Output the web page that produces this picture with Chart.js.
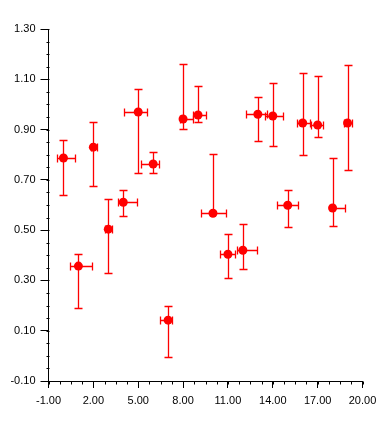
<!DOCTYPE html>
<html>
<head>
<meta charset="utf-8">
<script src="https://cdn.jsdelivr.net/npm/chart.js@4/dist/chart.umd.min.js"></script>
<style>
html,body{margin:0;padding:0;background:#fff;}
#wrap{width:390px;height:429px;position:relative;}
</style>
</head>
<body>
<div id="wrap"><canvas id="c" width="390" height="429"></canvas></div>
<script>
// ---- data ----
const xs = [0,1,2,3,4,5,6,7,8,9,10,11,12,13,14,15,16,17,18,19];
const ys = [0.787,0.357,0.830,0.504,0.611,0.970,0.763,0.142,0.942,0.958,0.567,0.404,0.420,0.961,0.954,0.599,0.926,0.918,0.588,0.926];
const yErrPlus  = [0.071,0.047,0.102,0.119,0.048,0.091,0.047,0.055,0.219,0.115,0.235,0.080,0.104,0.068,0.131,0.060,0.199,0.195,0.199,0.231];
const yErrMinus = [0.148,0.168,0.155,0.175,0.054,0.243,0.036,0.148,0.040,0.028,0.000,0.095,0.075,0.107,0.120,0.086,0.128,0.046,0.071,0.187];
const xErrMinus = [0.40,0.595,0.19,0.19,0.38,0.92,0.80,0.51,0.19,0.35,0.83,0.53,0.40,0.78,0.50,0.75,0.37,0.45,0.00,0.27];
const xErrPlus  = [0.74,0.94,0.24,0.28,0.89,0.62,0.36,0.23,0.64,0.50,0.88,0.49,0.94,0.60,0.65,0.66,0.50,0.33,0.85,0.29];
const xTicks = [-1,2,5,8,11,14,17,20];
const yTicks = [-0.1,0.1,0.3,0.5,0.7,0.9,1.1,1.3];
const xMinorStep = 0.75;
const yMinorStep = 0.05;

const RED = '#ff0000';
const FONT = {family: '"Liberation Sans", Arial, sans-serif', size: 11};

const errorBars = {
  id: 'errorBars',
  beforeDatasetsDraw(chart) {
    const ctx = chart.ctx, xs_ = chart.scales.x, ys_ = chart.scales.y;
    const cap = 4;
    ctx.save();
    ctx.strokeStyle = RED;
    ctx.lineWidth = 1.3;
    const al = v => Math.round(v) + 0.5;
    xs.forEach((xv, i) => {
      const px = al(xs_.getPixelForValue(xv));
      const py = al(ys_.getPixelForValue(ys[i]));
      const yTop = ys_.getPixelForValue(ys[i] + yErrPlus[i]);
      const yBot = ys_.getPixelForValue(ys[i] - yErrMinus[i]);
      const xL = xs_.getPixelForValue(xv - xErrMinus[i]);
      const xR = xs_.getPixelForValue(xv + xErrPlus[i]);
      ctx.beginPath();
      if (yErrPlus[i] > 0) {
        ctx.moveTo(px, py); ctx.lineTo(px, al(yTop));
        ctx.moveTo(px - cap, al(yTop)); ctx.lineTo(px + cap, al(yTop));
      }
      if (yErrMinus[i] > 0) {
        ctx.moveTo(px, py); ctx.lineTo(px, al(yBot));
        ctx.moveTo(px - cap, al(yBot)); ctx.lineTo(px + cap, al(yBot));
      }
      if (xErrMinus[i] > 0) {
        ctx.moveTo(px, py); ctx.lineTo(al(xL), py);
        ctx.moveTo(al(xL), py - cap); ctx.lineTo(al(xL), py + cap);
      }
      if (xErrPlus[i] > 0) {
        ctx.moveTo(px, py); ctx.lineTo(al(xR), py);
        ctx.moveTo(al(xR), py - cap); ctx.lineTo(al(xR), py + cap);
      }
      ctx.stroke();
    });
    ctx.restore();
  }
};

const minorTicks = {
  id: 'minorTicks',
  afterDraw(chart) {
    const ctx = chart.ctx, sx = chart.scales.x, sy = chart.scales.y;
    const len = 3;
    ctx.save();
    ctx.strokeStyle = '#000';
    ctx.lineWidth = 1;
    ctx.beginPath();
    const nx = Math.round((sx.max - sx.min) / xMinorStep);
    for (let k = 0; k <= nx; k++) {
      const p = Math.round(sx.getPixelForValue(sx.min + k * xMinorStep)) + 0.5;
      const yb = Math.round(sx.top) + 0.5;
      ctx.moveTo(p, yb); ctx.lineTo(p, yb + len);
    }
    const ny = Math.round((sy.max - sy.min) / yMinorStep);
    for (let k = 0; k <= ny; k++) {
      const p = Math.round(sy.getPixelForValue(sy.min + k * yMinorStep)) + 0.5;
      const xr = Math.round(sy.right) + 0.5;
      ctx.moveTo(xr, p); ctx.lineTo(xr - len, p);
    }
    ctx.stroke();
    ctx.restore();
  }
};

new Chart(document.getElementById('c'), {
  type: 'scatter',
  data: {
    datasets: [{
      data: xs.map((x, i) => ({x: x, y: ys[i]})),
      backgroundColor: RED,
      borderColor: RED,
      borderWidth: 0,
      pointRadius: 4.5,
      pointHoverRadius: 4.5
    }]
  },
  options: {
    responsive: false,
    animation: false,
    events: [],
    layout: {padding: {top: 29, right: 27.5, left: 0, bottom: 0}},
    plugins: {legend: {display: false}, tooltip: {enabled: false}, title: {display: false}},
    scales: {
      x: {
        type: 'linear', min: -1, max: 20,
        afterBuildTicks: s => { s.ticks = xTicks.map(v => ({value: v})); },
        afterFit: s => { s.height = 48; },
        ticks: {autoSkip: false, maxRotation: 0, color: '#000', font: FONT, padding: 6,
                callback: v => Number(v).toFixed(2)},
        grid: {display: true, drawOnChartArea: false, drawTicks: true, tickLength: 7, color: '#000', tickWidth: 1},
        border: {display: true, color: '#000', width: 1}
      },
      y: {
        type: 'linear', min: -0.1, max: 1.3,
        afterBuildTicks: s => { s.ticks = yTicks.map(v => ({value: v})); },
        afterFit: s => { s.width = 48.5; },
        ticks: {autoSkip: false, color: '#000', font: FONT, padding: 5,
                callback: v => Number(v).toFixed(2)},
        grid: {display: true, drawOnChartArea: false, drawTicks: true, tickLength: 8, color: '#000', tickWidth: 1},
        border: {display: true, color: '#000', width: 1}
      }
    }
  },
  plugins: [errorBars, minorTicks]
});
</script>
</body>
</html>
